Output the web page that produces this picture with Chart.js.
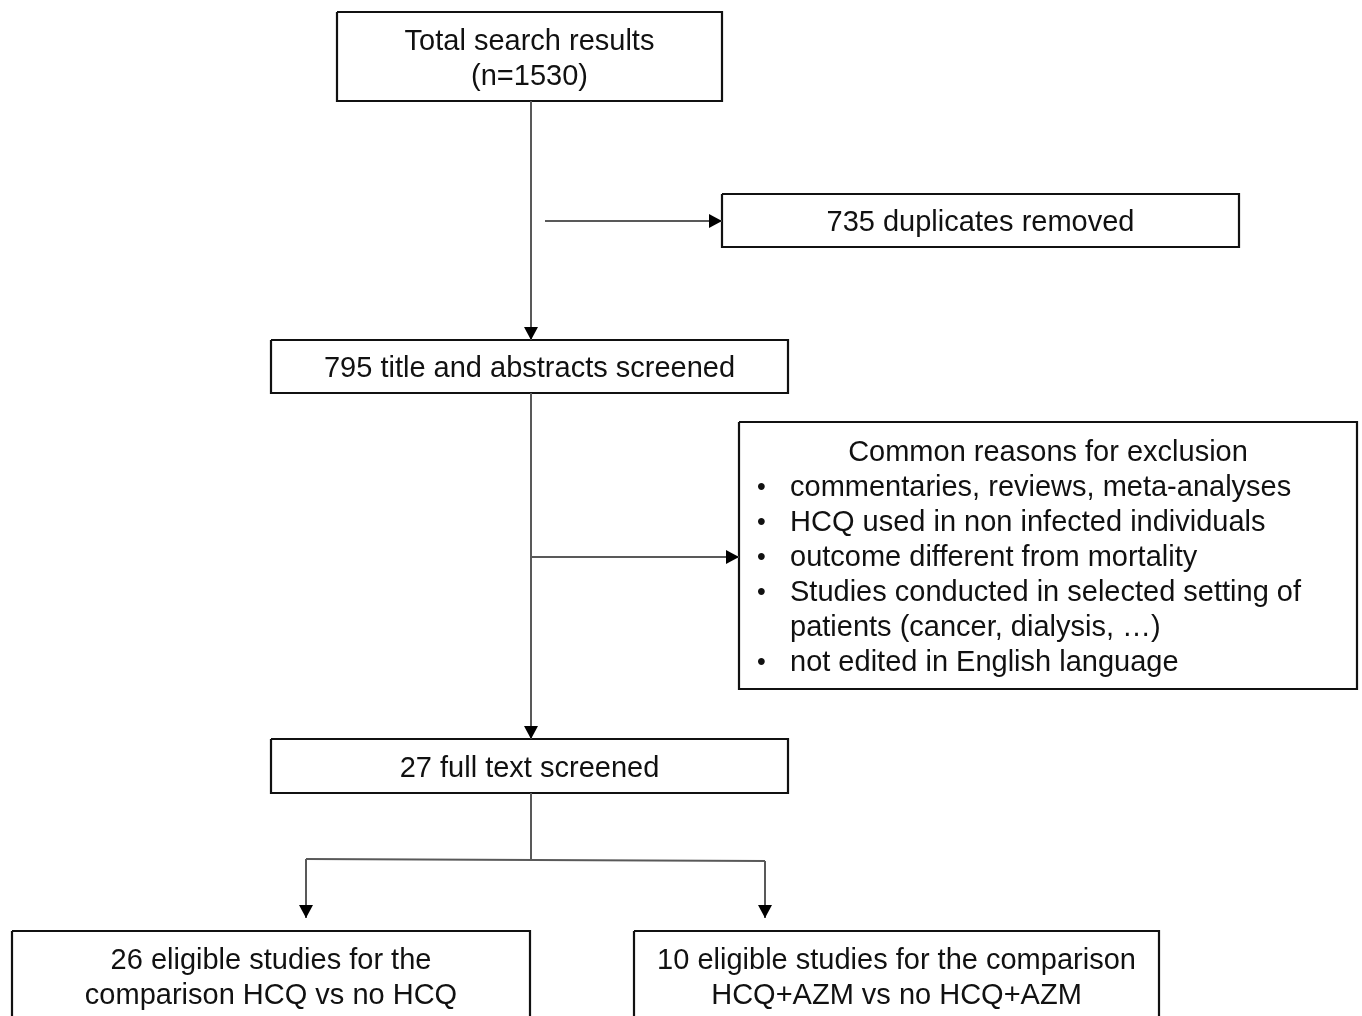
<!DOCTYPE html>
<html>
<head>
<meta charset="utf-8">
<script src="https://cdn.jsdelivr.net/npm/chart.js@4/dist/chart.umd.min.js"></script>
<style>
  html, body { margin: 0; padding: 0; background: #ffffff; }
  #wrap { width: 1362px; height: 1016px; }
</style>
</head>
<body>
<div id="wrap"><canvas id="flow" width="1362" height="1016"></canvas></div>
<script>
// --- flowchart content (diagram units = page pixels) ---------------------------
const boxLabels = [
  ["Total search results", "(n=1530)"],
  ["735 duplicates removed"],
  ["795 title and abstracts screened"],
  ["27 full text screened"],
  ["26 eligible studies for the", "comparison HCQ vs no HCQ"],
  ["10 eligible studies for the comparison", "HCQ+AZM vs no HCQ+AZM"]
];
const boxLeft   = [337, 722, 271, 271, 12, 634];
const boxRight  = [722, 1239, 788, 788, 530, 1159];
const boxTop    = [12, 194, 340, 739, 931, 931];
const boxBottom = [101, 247, 393, 793, 1021, 1021];

// exclusion box
const exclusionTitle = "Common reasons for exclusion";
const exclusionReasons = [
  ["commentaries, reviews, meta-analyses"],
  ["HCQ used in non infected individuals"],
  ["outcome different from mortality"],
  ["Studies conducted in selected setting of", "patients (cancer, dialysis, \u2026)"],
  ["not edited in English language"]
];
const exclusionBox = [739, 422, 1357, 689];   // left, top, right, bottom

// connectors: list of [x, y] points, arrow head at the last point when flagged
const connectors = [
  [[531, 101], [531, 340]],
  [[545, 221], [722, 221]],
  [[531, 393], [531, 739]],
  [[531, 557], [739, 557]],
  [[531, 793], [531, 860]],
  [[306, 859], [765, 861]],
  [[306, 859], [306, 918]],
  [[765, 861], [765, 918]]
];
const connectorArrow = [true, true, true, true, false, false, true, true];

const FONT = '29px "Liberation Sans", Arial, sans-serif';
const LINE_GAP = 35;
const TEXT_DY = 2.5;

// --- datasets ------------------------------------------------------------------
let datasets = [];

connectors.forEach(function(pts){
  datasets.push({
    data: pts.map(function(p){ return {x: p[0], y: p[1]}; }),
    showLine: true,
    borderColor: "#595959",
    borderWidth: 2,
    pointRadius: 0,
    fill: false
  });
});

function rectData(l, t, r, b){
  return [{x:l,y:t},{x:r,y:t},{x:r,y:b},{x:l,y:b},{x:l,y:t}];
}

boxLabels.forEach(function(lbl, i){
  datasets.push({
    data: rectData(boxLeft[i], boxTop[i], boxRight[i], boxBottom[i]),
    showLine: true,
    borderColor: "#111111",
    borderWidth: 2.2,
    pointRadius: 0,
    fill: false
  });
});
datasets.push({
  data: rectData(exclusionBox[0], exclusionBox[1], exclusionBox[2], exclusionBox[3]),
  showLine: true,
  borderColor: "#111111",
  borderWidth: 2.2,
  pointRadius: 0,
  fill: false
});

// --- plugin for arrow heads and texts --------------------------------------------
const flowText = {
  id: "flowText",
  afterDatasetsDraw(chart){
    const ctx = chart.ctx;
    const xs = chart.scales.x, ys = chart.scales.y;
    const px = function(v){ return xs.getPixelForValue(v); };
    const py = function(v){ return ys.getPixelForValue(v); };
    ctx.save();

    // arrow heads
    ctx.fillStyle = "#000000";
    connectors.forEach(function(pts, i){
      if(!connectorArrow[i]) return;
      const a = pts[pts.length-2], b = pts[pts.length-1];
      const x1 = px(a[0]), y1 = py(a[1]), x2 = px(b[0]), y2 = py(b[1]);
      const ang = Math.atan2(y2-y1, x2-x1);
      const len = 13, half = 7;
      ctx.beginPath();
      ctx.moveTo(x2, y2);
      ctx.lineTo(x2 - len*Math.cos(ang) + half*Math.sin(ang), y2 - len*Math.sin(ang) - half*Math.cos(ang));
      ctx.lineTo(x2 - len*Math.cos(ang) - half*Math.sin(ang), y2 - len*Math.sin(ang) + half*Math.cos(ang));
      ctx.closePath();
      ctx.fill();
    });

    // box texts
    ctx.font = FONT;
    ctx.fillStyle = "#111111";
    ctx.textAlign = "center";
    ctx.textBaseline = "middle";
    boxLabels.forEach(function(lines, i){
      const cx = (px(boxLeft[i]) + px(boxRight[i]))/2;
      const cy = (py(boxTop[i]) + py(boxBottom[i]))/2 + TEXT_DY;
      const y0 = cy - (lines.length-1)*LINE_GAP/2;
      lines.forEach(function(t, k){ ctx.fillText(t, cx, y0 + k*LINE_GAP); });
    });

    // exclusion box
    const exL = px(exclusionBox[0]), exR = px(exclusionBox[2]);
    const exT = py(exclusionBox[1]), exB = py(exclusionBox[3]);
    let nLines = 1;
    exclusionReasons.forEach(function(r){ nLines += r.length; });
    let y = (exT + exB)/2 - (nLines-1)*LINE_GAP/2 + TEXT_DY;
    ctx.fillText(exclusionTitle, (exL + exR)/2, y);
    ctx.textAlign = "left";
    exclusionReasons.forEach(function(r){
      r.forEach(function(t, k){
        y += LINE_GAP;
        if(k === 0){
          ctx.font = '25px "Liberation Sans", Arial, sans-serif';
          ctx.fillText("\u2022", exL + 18, y);
          ctx.font = FONT;
        }
        ctx.fillText(t, exL + 51, y);
      });
    });
    ctx.restore();
  }
};

new Chart(document.getElementById("flow"), {
  type: "scatter",
  data: { datasets: datasets },
  options: {
    responsive: false,
    animation: false,
    events: [],
    layout: { padding: 0 },
    plugins: { legend: { display: false }, tooltip: { enabled: false } },
    scales: {
      x: { type: "linear", min: 0, max: 1362, display: false },
      y: { type: "linear", min: 0, max: 1016, reverse: true, display: false }
    }
  },
  plugins: [flowText]
});
</script>
</body>
</html>
